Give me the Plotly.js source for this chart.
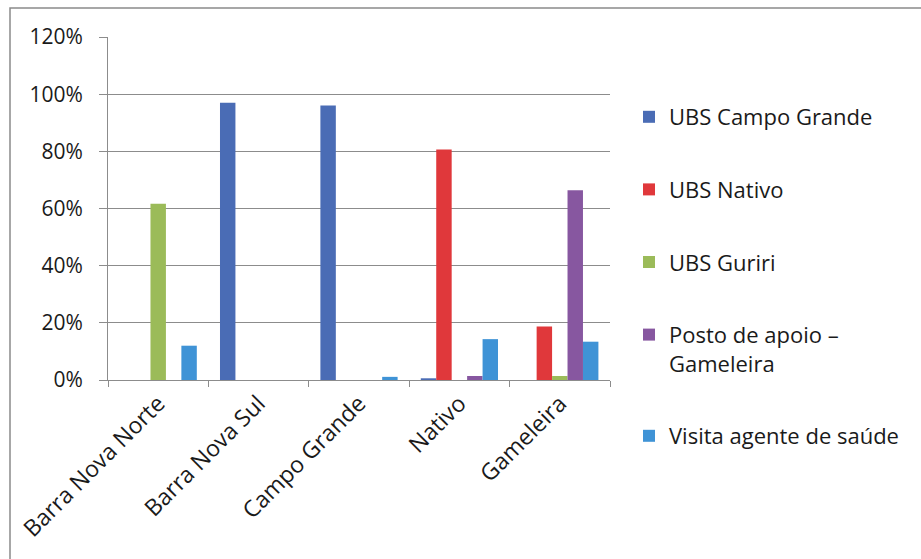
<!DOCTYPE html>
<html>
<head>
<meta charset="utf-8">
<script src="https://cdn.plot.ly/plotly-3.0.1.min.js"></script>
<style>
html,body{margin:0;padding:0;background:#ffffff;}
#chart{width:921px;height:559px;}
</style>
</head>
<body>
<div id="chart"></div>
<script>
const categories = ["Barra Nova Norte", "Barra Nova Sul", "Campo Grande", "Nativo", "Gameleira"];
const seriesNames = ["UBS Campo Grande", "UBS Nativo", "UBS Guriri", "Posto de apoio –<br>Gameleira", "Visita agente de saúde"];
const ubsCampoGrande = [0, 0.97, 0.96, 0.006, 0];
const ubsNativo = [0, 0, 0, 0.806, 0.187];
const ubsGuriri = [0.617, 0, 0, 0, 0.014];
const postoApoio = [0, 0, 0, 0.014, 0.664];
const visitaAgente = [0.12, 0, 0.011, 0.143, 0.134];
const yTicks = [0, 0.2, 0.4, 0.6, 0.8, 1.0, 1.2];
const yTickLabels = ["0%", "20%", "40%", "60%", "80%", "100%", "120%"];

const seriesValues = [ubsCampoGrande, ubsNativo, ubsGuriri, postoApoio, visitaAgente];
const colors = ["#4A6CB5", "#E0383B", "#9BBB59", "#8757A0", "#3F93D6"];

const font = "Open Sans, Noto Sans, sans-serif";

const traces = seriesValues.map((vals, i) => ({
  type: "bar",
  name: seriesNames[i],
  x: categories,
  y: vals,
  marker: {color: colors[i], line: {width: 0}},
  legendgroup: "g" + i,
  hoverinfo: "skip"
}));

// plot area in px: left 108, right 610, top 37, bottom 380
const L = 108, R = 610, T = 37, B = 380, W = 921, H = 559;
const px2x = p => (p - L) / (R - L);
const px2y = p => (B - p) / (B - T);

const layout = {
  width: W, height: H,
  margin: {l: L, r: W - R, t: T, b: H - B, pad: 0},
  paper_bgcolor: "#ffffff",
  plot_bgcolor: "#ffffff",
  barmode: "group",
  bargap: 0.2308,
  bargroupgap: 0,
  showlegend: true,
  font: {family: font, size: 20, color: "#1a1a1a"},
  xaxis: {
    type: "category",
    tickangle: -45,
    tickson: "boundaries",
    ticks: "outside",
    ticklen: 6,
    tickcolor: "#8c8c8c",
    showline: true,
    linecolor: "#8c8c8c",
    linewidth: 1,
    showgrid: false,
    tickfont: {family: font, size: 23, color: "#1a1a1a"},
    fixedrange: true
  },
  yaxis: {
    range: [0, 1.2],
    tickvals: yTicks,
    ticktext: yTickLabels,
    ticks: "outside",
    ticklen: 8,
    tickcolor: "#8c8c8c",
    ticklabelstandoff: 12,
    showline: true,
    linecolor: "#8c8c8c",
    linewidth: 1,
    showgrid: true,
    gridcolor: "#8c8c8c",
    gridwidth: 1,
    zeroline: false,
    tickfont: {family: font, size: 21, color: "#1a1a1a"},
    fixedrange: true
  },
  legend: {
    x: px2x(629),
    xanchor: "left",
    y: px2y(96),
    yanchor: "top",
    valign: "top",
    tracegroupgap: 41,
    maxheight: 450,
    bgcolor: "rgba(0,0,0,0)",
    font: {family: font, size: 22, color: "#1a1a1a"}
  },
  shapes: [{
    type: "rect", xref: "paper", yref: "paper",
    x0: px2x(10), x1: px2x(960), y0: px2y(600), y1: px2y(8),
    line: {color: "#8a8a8a", width: 1.5},
    fillcolor: "rgba(0,0,0,0)",
    layer: "below"
  }]
};

Plotly.newPlot("chart", traces, layout, {displayModeBar: false, staticPlot: true});
</script>
</body>
</html>
